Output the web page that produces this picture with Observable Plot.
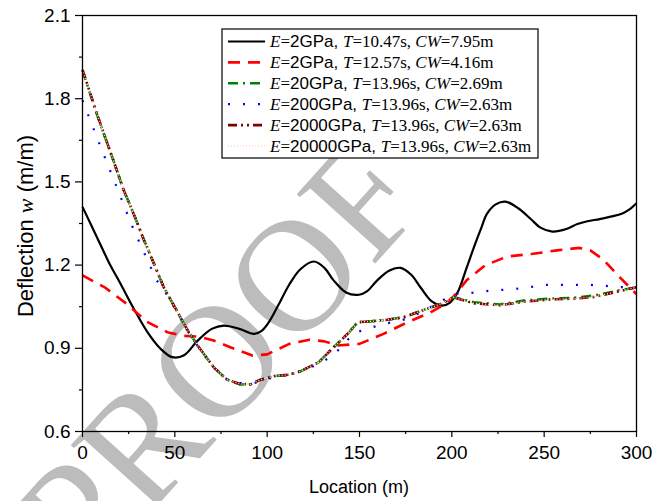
<!DOCTYPE html>
<html><head><meta charset="utf-8">
<script src="https://cdn.jsdelivr.net/npm/d3@7"></script>
<script src="https://cdn.jsdelivr.net/npm/@observablehq/plot@0.6"></script>
<style>
body{margin:0;background:#fff;}
#chart{position:relative;width:668px;height:501px;}
</style>
</head><body><div id="chart"></div>
<script>
// ---- data ----
const blackX = [0,5,10,15,20,28,35,42,48.6,55,62,70,76.5,85,92.8,97,101,106,112,118,125.3,131,136,143,149.7,154,159.6,166,172.3,178,183,189,194.8,199,203,208,212,216,219,224,229,236,242.6,248,254.4,262,268,273.4,280,286,292,296,300];
const blackY = [1.41,1.34,1.27,1.20,1.14,1.04,0.96,0.90,0.868,0.875,0.925,0.970,0.982,0.970,0.952,0.963,0.995,1.055,1.13,1.185,1.213,1.19,1.145,1.10,1.093,1.105,1.145,1.18,1.19,1.165,1.12,1.07,1.054,1.065,1.10,1.19,1.265,1.335,1.385,1.42,1.429,1.405,1.367,1.335,1.321,1.33,1.348,1.358,1.366,1.375,1.385,1.40,1.423];

const redX = [0,12,24,35,46,55,63,71,80,92,100,112,123,131,138,150,163,176,188,196,201,208,218,230,244,257,269,275,282,291,300];
const redY = [1.163,1.12,1.06,0.995,0.958,0.945,0.942,0.928,0.904,0.874,0.878,0.916,0.931,0.925,0.910,0.916,0.952,0.994,1.028,1.058,1.087,1.145,1.199,1.231,1.241,1.253,1.262,1.253,1.22,1.156,1.095];

const greenX = [0,8,17,22,28,33,39,44,50,57,63,71,78,85,91,96,104,112,118,128,136,144,149,156,165,174,185,194,201,212,226,239,253,266,277,290,300];
const greenY = [1.902,1.74,1.572,1.475,1.38,1.295,1.20,1.12,1.048,0.964,0.904,0.832,0.788,0.770,0.770,0.786,0.800,0.805,0.817,0.850,0.904,0.955,0.994,0.997,1.003,1.012,1.039,1.060,1.084,1.066,1.058,1.072,1.079,1.082,1.090,1.108,1.120];

const blueX = [0,9,18,27,35,40,45,50,57,63,71,78,85,92,100,112,120,130,138,147,157,165,175,185,194,202,210,218,226,234,242,250,258,266,274,282,290,300];
const blueY = [1.794,1.64,1.49,1.339,1.22,1.147,1.10,1.045,0.962,0.902,0.830,0.790,0.775,0.772,0.790,0.805,0.820,0.850,0.890,0.955,0.976,0.990,1.005,1.035,1.070,1.097,1.099,1.106,1.110,1.114,1.120,1.129,1.129,1.129,1.129,1.126,1.121,1.120];

const darkredX = [0,8,17,22,28,33,39,44,50,57,63,71,78,85,91,96,104,112,118,128,136,144,149,156,165,174,185,194,201,212,226,239,253,266,277,290,300];
const darkredY = [1.905,1.742,1.572,1.475,1.38,1.295,1.20,1.12,1.048,0.964,0.904,0.832,0.788,0.772,0.770,0.786,0.800,0.805,0.817,0.850,0.904,0.955,0.994,0.997,1.003,1.012,1.039,1.060,1.084,1.062,1.055,1.068,1.076,1.079,1.085,1.105,1.120];

const paleX = darkredX;
const paleY = darkredY;

const legendE  = ["2","2","20","200","2000","20000"];
const legendT  = ["10.47","12.57","13.96","13.96","13.96","13.96"];
const legendCW = ["7.95","4.16","2.69","2.63","2.63","2.63"];

const xTicks = [0,50,100,150,200,250,300];
const xMinor = [25,75,125,175,225,275];
const yTicks = [0.6,0.9,1.2,1.5,1.8,2.1];
const yMinor = [0.75,1.05,1.35,1.65,1.95];

const xLabel = "Location (m)";
const watermark = "PROOF";

// ---- styles ----
const series = [
  {x: blackX,   y: blackY,   stroke: "#000000", w: 2.2, dash: null},
  {x: redX,     y: redY,     stroke: "#ff0000", w: 2.6, dash: "12,8"},
  {x: greenX,   y: greenY,   stroke: "#008000", w: 2.6, dash: "10,5,2,5"},
  {x: blueX,    y: blueY,    stroke: "#0000ff", w: 2.2, dash: "2,13"},
  {x: darkredX, y: darkredY, stroke: "#800000", w: 2.6, dash: "9,4,2,4,2,4"},
  {x: paleX,    y: paleY,    stroke: "#ffdcc8", w: 1.4, dash: "1,2"}
];
const rows = s => s.x.map((x,i)=>({x, y: s.y[i]}));

const SANS = "'Liberation Sans', Arial, sans-serif";
const SERIF = "'Liberation Serif', 'Times New Roman', serif";

const plot = Plot.plot({
  width: 668, height: 501,
  marginLeft: 82, marginRight: 32, marginTop: 15, marginBottom: 70,
  x: {domain: [0, 300]},
  y: {domain: [0.6, 2.1]},
  style: {fontFamily: SANS, fontSize: "19px", color: "#000", background: "#fff", overflow: "hidden"},
  marks: [
    ...series.map((s, i) => Plot.line(rows(s), {
      x: "x", y: "y", stroke: s.stroke, strokeWidth: s.w,
      strokeDasharray: s.dash || undefined,
      curve: i === 0 ? "catmull-rom" : "linear",
      strokeLinecap: "butt", strokeLinejoin: "round"
    })),
    Plot.frame({stroke: "#000", strokeWidth: 1.3}),
    Plot.axisX({ticks: xTicks, tickSize: 6, tickPadding: 8, tickFormat: d => String(d), label: null, strokeWidth: 1.2}),
    Plot.axisX({ticks: xMinor, tickSize: 3, tickFormat: () => "", label: null, strokeWidth: 1.2}),
    Plot.axisY({ticks: yTicks, tickSize: 7, tickPadding: 5, tickFormat: d3.format(".1f"), label: null, strokeWidth: 1.2}),
    Plot.axisY({ticks: yMinor, tickSize: 3, tickFormat: () => "", label: null, strokeWidth: 1.2})
  ]
});

const svg = d3.select(plot);

// watermark (behind everything)
svg.insert("text", "g")
  .attr("transform", "translate(86,585) rotate(-48)")
  .attr("text-anchor", "start")
  .attr("font-family", SERIF)
  .attr("font-size", 160)
  .attr("fill", "#bcbcbc")
  .text(watermark);

// axis labels
const xs = plot.scale("x"), ys = plot.scale("y");
const xMid = (xs.apply(0) + xs.apply(300)) / 2;
const yMid = (ys.apply(0.6) + ys.apply(2.1)) / 2;
svg.append("text")
  .attr("x", xMid).attr("y", 493)
  .attr("text-anchor", "middle")
  .attr("font-family", SANS).attr("font-size", 18)
  .text(xLabel);
const yl = svg.append("text")
  .attr("transform", `translate(33,${yMid + 3}) rotate(-90)`)
  .attr("text-anchor", "middle")
  .attr("font-family", SANS).attr("font-size", 22);
yl.append("tspan").text("Deflection ");
yl.append("tspan").attr("font-family", SERIF).attr("font-style", "italic").text("w");
yl.append("tspan").text(" (m/m)");

// legend
const lg = svg.append("g").attr("text-anchor", "start");
lg.append("rect").attr("x", 222).attr("y", 29).attr("width", 316).attr("height", 129)
  .attr("fill", "#fff").attr("stroke", "#000").attr("stroke-width", 1.2);
series.forEach((s, i) => {
  const cy = 41.5 + i * 20.9;
  lg.append("line").attr("x1", 228).attr("x2", 265).attr("y1", cy).attr("y2", cy)
    .attr("stroke", s.stroke).attr("stroke-width", s.w)
    .attr("stroke-dasharray", s.dash || null);
  const t = lg.append("text").attr("x", 270).attr("y", cy + 5.8)
    .attr("text-anchor", "start").attr("font-size", 17).attr("font-family", SERIF);
  t.append("tspan").attr("font-style", "italic").text("E");
  t.append("tspan").text("=");
  t.append("tspan").attr("font-family", SANS).text(legendE[i] + "GPa, ");
  t.append("tspan").attr("font-style", "italic").text("T");
  t.append("tspan").text("=" + legendT[i] + "s, ");
  t.append("tspan").attr("font-style", "italic").text("CW");
  t.append("tspan").text("=" + legendCW[i] + "m");
});

document.getElementById("chart").appendChild(plot);
</script>
</body></html>
